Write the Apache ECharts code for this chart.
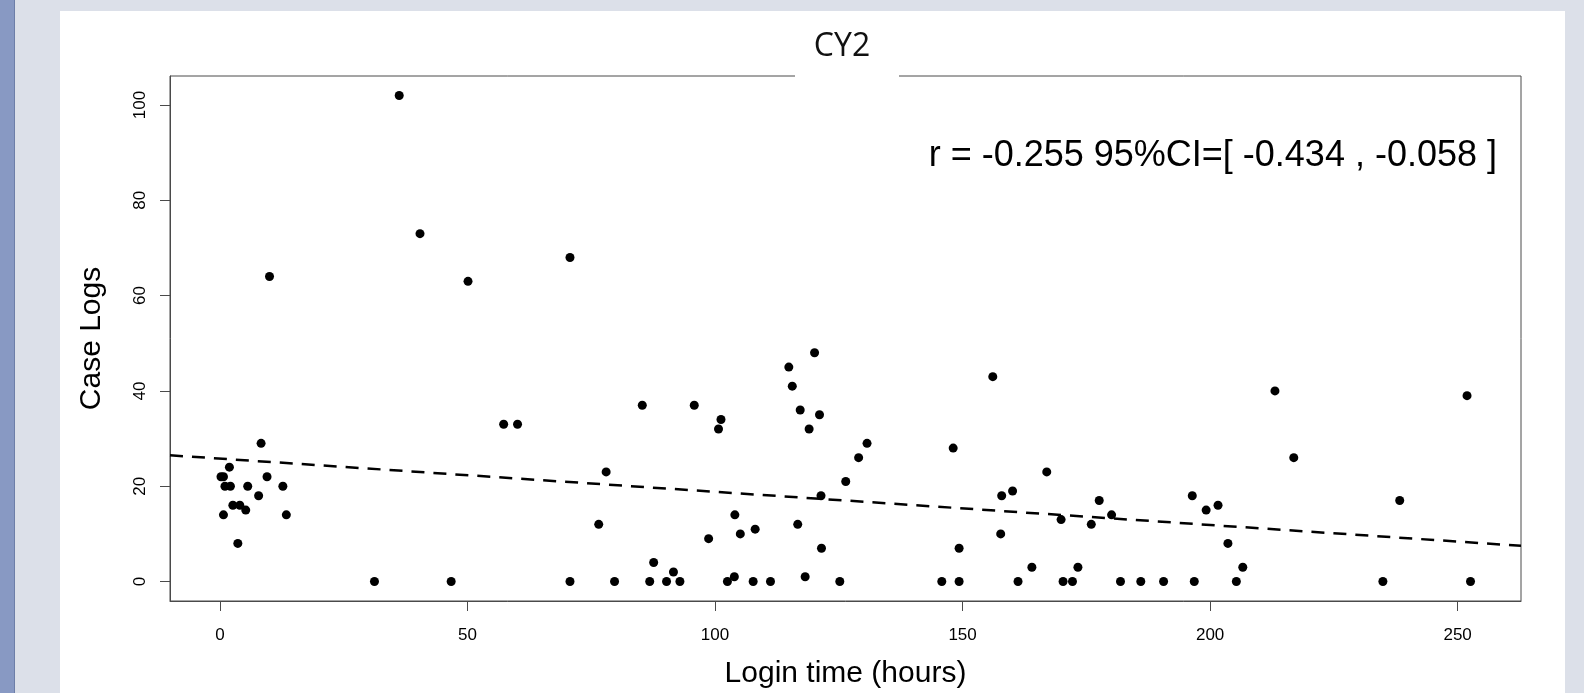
<!DOCTYPE html>
<html>
<head>
<meta charset="utf-8">
<title>CY2</title>
<style>
  html, body { margin: 0; padding: 0; background: #dce0e9; }
  #main { width: 1584px; height: 693px; }
</style>
<script src="https://cdn.jsdelivr.net/npm/echarts@6/dist/echarts.min.js"></script>
</head>
<body>
<div id="main"></div>
<script>
// 数据：登录时长(小时) 与 病例记录数
var loginHours = [
  36.2, 40.4, 10.0, 50.1, 57.3, 8.3, 1.9, 0.2, 0.7, 9.5, 1.0, 2.1, 5.6, 12.7, 7.8, 2.6, 4.0, 5.2, 0.7, 13.4, 3.6, 31.2, 46.7,
  60.1, 70.7, 85.3, 95.8, 101.2, 100.7, 114.9, 120.1, 115.6, 117.2, 121.1, 119.0, 78.0, 121.4, 76.5, 104.0, 116.7, 98.7,
  105.1, 108.1, 121.5, 87.6, 91.6, 103.9, 118.2, 70.7, 79.7, 86.8, 90.2, 92.9, 102.5, 107.7, 111.2, 125.2,
  126.4, 129.0, 130.7, 145.8, 148.1, 149.3, 149.3, 156.1, 157.9, 160.1, 157.7, 161.2, 164.0, 167.0, 169.9, 170.3, 172.2,
  173.3, 176.0, 177.6, 180.1, 181.9, 186.0, 190.6,
  196.8, 196.4, 199.2, 201.6, 203.6, 205.3, 206.6, 213.1, 216.9, 234.9, 238.3, 251.9, 252.6
];
var caseLogs = [
  102, 73, 64, 63, 33, 29, 24, 22, 22, 22, 20, 20, 20, 20, 18, 16, 16, 15, 14, 14, 8, 0, 0,
  33, 68, 37, 37, 34, 32, 45, 48, 41, 36, 35, 32, 23, 18, 12, 14, 12, 9,
  10, 11, 7, 4, 2, 1, 1, 0, 0, 0, 0, 0, 0, 0, 0, 0,
  21, 26, 29, 0, 28, 7, 0, 43, 18, 19, 10, 0, 3, 23, 13, 0, 0,
  3, 12, 17, 14, 0, 0, 0,
  0, 18, 15, 16, 8, 0, 3, 40, 26, 0, 17, 39, 0
];
// 回归线两端
var fitX = [-10.1, 262.8];
var fitY = [26.5, 7.5];
// 刻度
var xTicks = [0, 50, 100, 150, 200, 250];
var yTicks = [0, 20, 40, 60, 80, 100];
var corrText = 'r = -0.255 95%CI=[ -0.434 , -0.058 ]';

(function () {
  var points = loginHours.map(function (x, i) { return [x, caseLogs[i]] })
  var fitLine = fitX.map(function (x, i) { return [x, fitY[i]] })
  var font = '"Liberation Sans", Arial, sans-serif'
  var axisColor = '#4a4a4a'

  var option = {
    backgroundColor: '#dce0e9',
    animation: false,
    title: {
      text: 'CY2',
      left: 842,
      top: 31,
      textAlign: 'center',
      padding: 0,
      textStyle: { fontFamily: '"Open Sans", sans-serif', fontSize: 32, fontWeight: 'normal', color: '#111' }
    },
    // 背景装饰：左侧蓝条、白色面板、标题遮挡框
    graphic: [
      { type: 'rect', z: -10, shape: { x: 0, y: 0, width: 15, height: 693 }, style: { fill: '#8899c3' } },
      { type: 'rect', z: -10, shape: { x: 14, y: 0, width: 1, height: 693 }, style: { fill: '#6d7ea8' } },
      { type: 'rect', z: -10, shape: { x: 60, y: 11, width: 1505, height: 682 }, style: { fill: '#ffffff' } },
      { type: 'rect', z: 100, shape: { x: 795, y: 70, width: 104, height: 12 }, style: { fill: '#ffffff' } },
      {
        type: 'text', z: 100, x: 1497, y: 156,
        style: { text: corrText, font: '36px ' + font, fill: '#000', textAlign: 'right', textVerticalAlign: 'middle' }
      }
    ],
    grid: {
      left: 170,
      top: 76,
      right: 63,
      bottom: 92,
      show: true,
      borderColor: axisColor,
      borderWidth: 1,
      outerBoundsMode: 'none'
    },
    xAxis: {
      type: 'value',
      min: -10.1,
      max: 262.8,
      name: 'Login time (hours)',
      nameLocation: 'middle',
      nameGap: 58,
      nameTextStyle: { fontFamily: font, fontSize: 30, color: '#000' },
      axisLine: { show: true, onZero: false, lineStyle: { color: axisColor } },
      axisTick: { show: true, length: 10, customValues: xTicks, lineStyle: { color: axisColor } },
      axisLabel: { customValues: xTicks, margin: 26, fontFamily: font, fontSize: 17, color: '#000' },
      splitLine: { show: false }
    },
    yAxis: {
      type: 'value',
      min: -4.08,
      max: 106.08,
      name: 'Case Logs',
      nameLocation: 'middle',
      nameGap: 63,
      nameTextStyle: { fontFamily: font, fontSize: 30, color: '#000' },
      axisLine: { show: true, onZero: false, lineStyle: { color: axisColor } },
      axisTick: { show: true, length: 10, customValues: yTicks, lineStyle: { color: axisColor } },
      axisLabel: { customValues: yTicks, rotate: 90, margin: 21, fontFamily: font, fontSize: 17, color: '#000' },
      splitLine: { show: false }
    },
    series: [
      {
        name: 'Case Logs',
        type: 'scatter',
        data: points,
        symbol: 'circle',
        symbolSize: 9,
        itemStyle: { color: '#000', opacity: 1 }
      },
      {
        name: 'fit',
        type: 'line',
        data: fitLine,
        symbol: 'none',
        lineStyle: { color: '#000', width: 2.5, type: [13, 9] }
      }
    ]
  }
  var myChart = echarts.init(document.getElementById('main'))
  myChart.setOption(option)
})();
</script>
</body>
</html>
